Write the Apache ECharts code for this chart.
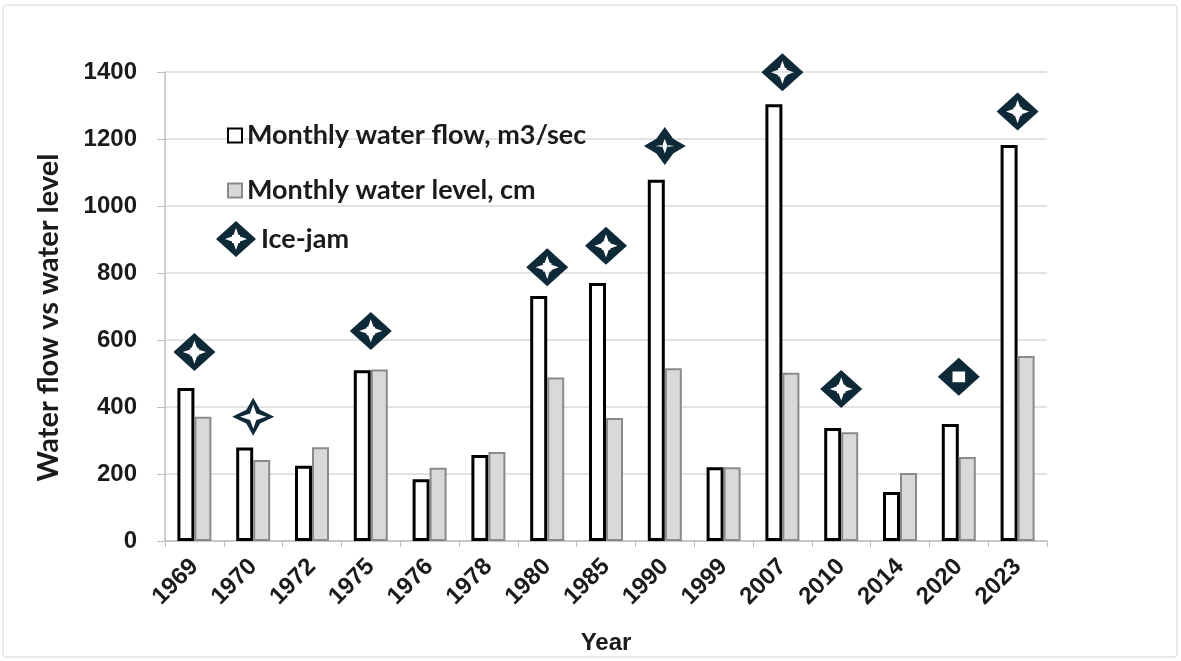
<!DOCTYPE html>
<html>
<head>
<meta charset="utf-8">
<script src="https://cdn.jsdelivr.net/npm/echarts@6/dist/echarts.min.js"></script>
<style>
  html, body { margin: 0; padding: 0; background: #fff; }
  #chart { width: 1181px; height: 661px; }
</style>
</head>
<body>
<div id="chart"></div>
<script>
// Years on the category axis
const years = ['1969', '1970', '1972', '1975', '1976', '1978', '1980', '1985', '1990', '1999', '2007', '2010', '2014', '2020', '2023'];
// Monthly water flow, m3/sec
const waterFlow = [457, 279, 225, 510, 184, 257, 731, 770, 1078, 220, 1304, 337, 146, 349, 1182];
// Monthly water level, cm
const waterLevel = [371, 242, 280, 512, 219, 266, 488, 367, 516, 220, 502, 325, 203, 251, 552];
// Ice-jam events (marker height per year, null where none)
const iceJam = [564, 371, null, 627, null, null, 817, 881, 1179, null, 1399, 454, null, 490, 1282];
// Marker shape used for each ice-jam event
const iceJamShape = ['cross', 'star', null, 'cross', null, null, 'cross', 'cross', 'thick', null, 'cross', 'cross', null, 'square', 'cross'];
// Value axis ticks
const yTicks = [0, 200, 400, 600, 800, 1000, 1200, 1400];

// Marker outlines: outer shape clockwise, inner hole counter-clockwise
const SHAPES = {
  cross: 'path://M0,-18L20,0L0,18L-20,0Z M0,-11L-2.5,-4L-4,-4L-4,-2.5L-11,0L-4,2.5L-4,4L-2.5,4L0,11L2.5,4L4,4L4,2.5L11,0L4,-2.5L4,-4L2.5,-4Z',
  star: 'path://M0,-18L6.5,-6.5L20,0L6.5,6.5L0,18L-6.5,6.5L-20,0L-6.5,-6.5Z M0,-11.5L-3,-3L-12.5,0L-3,3L0,11.5L3,3L12.5,0L3,-3Z',
  thick: 'path://M0,-18L8,-7L20,0L8,7L0,18L-8,7L-20,0L-8,-7Z M0,-7L-2.5,0L0,7L2.5,0Z M-9,0L-2,1L-2,-1Z M9,0L2,-1L2,1Z',
  square: 'path://M0,-18L20,0L0,18L-20,0Z M-6,-5L-6,5L6,5L6,-5Z'
};

const jamColor = '#0e2a39';
const textColor = '#1b1b1b';
const legendText = { fontFamily: 'Lato', fontWeight: 'bold', fontSize: 27, color: textColor };

const iceData = iceJam.map((v, i) => v == null ? null : {
  value: v,
  symbol: SHAPES[iceJamShape[i]]
});

const chart = echarts.init(document.getElementById('chart'));
chart.setOption({
  backgroundColor: '#ffffff',
  animation: false,
  grid: { left: 165, right: 134, top: 72, bottom: 120, outerBoundsMode: 'none', containLabel: false },
  graphic: [{
    type: 'rect',
    shape: { x: 3, y: 5, width: 1174, height: 652, r: 3 },
    style: { fill: 'none', stroke: '#d6d6d6', lineWidth: 1 },
    silent: true
  }],
  legend: [{
    data: ['Monthly water flow, m3/sec'],
    left: 222, top: 117,
    itemWidth: 14, itemHeight: 14, itemGap: 8,
    icon: 'rect',
    textStyle: legendText
  }, {
    data: ['Monthly water level, cm'],
    left: 222, top: 172,
    itemWidth: 14, itemHeight: 14, itemGap: 8,
    icon: 'rect',
    textStyle: legendText
  }, {
    data: ['Ice-jam'],
    left: 211, top: 216,
    itemWidth: 40, itemHeight: 36, itemGap: 12,
    icon: SHAPES.cross,
    textStyle: legendText
  }],
  xAxis: {
    type: 'category',
    data: years,
    name: 'Year',
    nameLocation: 'middle',
    nameGap: 90,
    nameTextStyle: { fontFamily: 'Liberation Sans Narrow, Liberation Sans', fontWeight: 'bold', fontSize: 24, color: textColor },
    axisLine: { lineStyle: { color: '#bfbfbf', width: 1.5 } },
    axisTick: { show: true, length: 6, lineStyle: { color: '#bfbfbf' } },
    axisLabel: {
      rotate: 45, margin: 22,
      fontFamily: 'Liberation Sans', fontWeight: 'bold', fontSize: 24, color: textColor
    }
  },
  yAxis: {
    type: 'value',
    min: 0, max: 1400, interval: 200,
    name: 'Water flow vs water level',
    nameLocation: 'middle',
    nameRotate: 90,
    nameGap: 102,
    nameTextStyle: { fontFamily: 'Lato', fontWeight: 'bold', fontSize: 29, color: textColor, padding: [0, 22, 0, 0] },
    axisLine: { show: true, lineStyle: { color: '#bfbfbf', width: 1.5 } },
    axisTick: { show: true, length: 8, lineStyle: { color: '#bfbfbf' } },
    splitLine: { lineStyle: { color: '#d9d9d9', width: 1.5 } },
    axisLabel: {
      margin: 28,
      fontFamily: 'Liberation Sans', fontWeight: 'bold', fontSize: 24, color: textColor,
      formatter: v => yTicks.includes(v) ? String(v) : ''
    }
  },
  series: [{
    name: 'Monthly water flow, m3/sec',
    type: 'bar',
    data: waterFlow,
    barWidth: 17,
    barGap: '0%',
    itemStyle: { color: '#ffffff', borderColor: '#000000', borderWidth: 3 }
  }, {
    name: 'Monthly water level, cm',
    type: 'bar',
    data: waterLevel,
    barWidth: 17,
    itemStyle: { color: '#d9d9d9', borderColor: '#8a8a8a', borderWidth: 2 }
  }, {
    name: 'Ice-jam',
    type: 'scatter',
    data: iceData,
    symbolSize: [42, 38],
    clip: false,
    z: 5,
    itemStyle: { color: jamColor, opacity: 1 }
  }]
});
</script>
</body>
</html>
